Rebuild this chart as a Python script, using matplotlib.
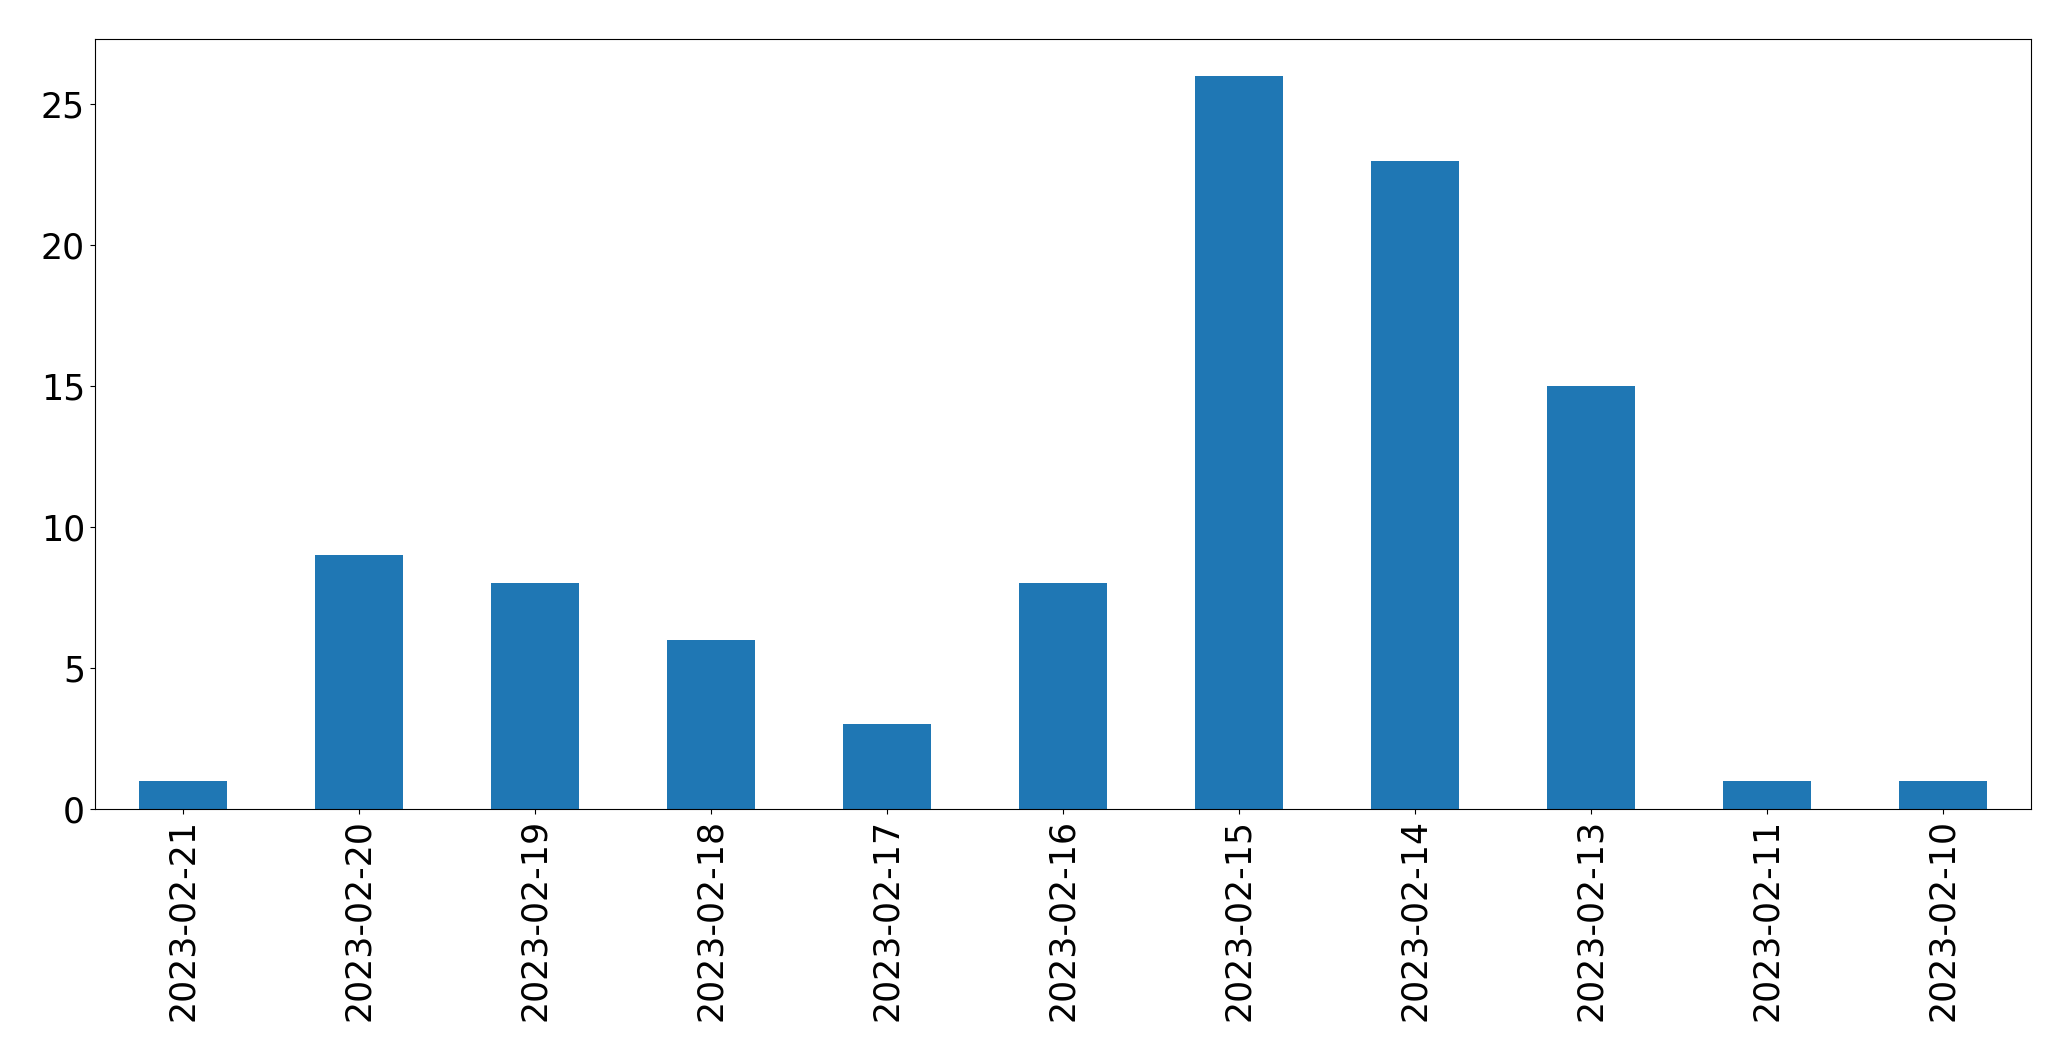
import matplotlib
matplotlib.use("Agg")
import matplotlib.pyplot as plt

dates = ["2023-02-21", "2023-02-20", "2023-02-19", "2023-02-18", "2023-02-17",
         "2023-02-16", "2023-02-15", "2023-02-14", "2023-02-13", "2023-02-11",
         "2023-02-10"]
counts = [1, 9, 8, 6, 3, 8, 26, 23, 15, 1, 1]

fig, ax = plt.subplots(figsize=(20.71, 10.61), dpi=100)
fig.subplots_adjust(left=94.7 / 2071, right=2031 / 2071, top=1 - 39.3 / 1061, bottom=1 - 809 / 1061)
x = list(range(len(dates)))
ax.bar(x, counts, width=0.5, color="#1f77b4")
ax.set_xlim(-0.5, len(dates) - 0.5)
ax.set_xticks(x)
ax.set_xticklabels(dates, rotation=90)
ax.tick_params(labelsize=25)
fig.savefig("out.png", dpi=100)
